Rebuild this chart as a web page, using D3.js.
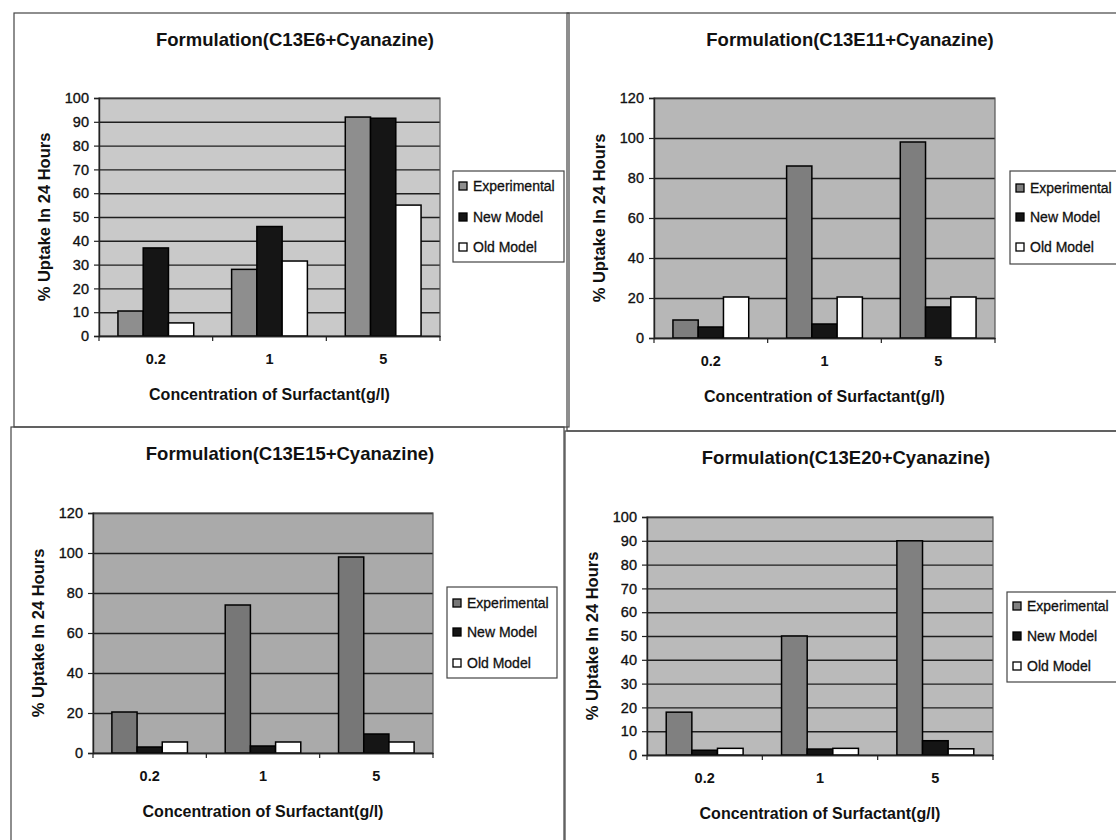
<!DOCTYPE html>
<html>
<head>
<meta charset="utf-8">
<script src="https://cdn.jsdelivr.net/npm/d3@7/dist/d3.min.js"></script>
<style>
  html, body { margin: 0; padding: 0; background: #fff; }
  svg { display: block; font-family: "Liberation Sans", Arial, sans-serif; }
</style>
</head>
<body>
<svg id="chart" width="1116" height="840"></svg>
<script>
// ---------- data ----------
const categories = ["0.2", "1", "5"];
const seriesNames = ["Experimental", "New Model", "Old Model"];
const chartTitles = [
  "Formulation(C13E6+Cyanazine)",
  "Formulation(C13E11+Cyanazine)",
  "Formulation(C13E15+Cyanazine)",
  "Formulation(C13E20+Cyanazine)"
];
const xAxisTitle = "Concentration of Surfactant(g/l)";
const yAxisTitle = "% Uptake In 24 Hours";

const yTicks100 = [0, 10, 20, 30, 40, 50, 60, 70, 80, 90, 100];
const yTicks120 = [0, 20, 40, 60, 80, 100, 120];

const c13e6Experimental = [10.5, 28, 92];
const c13e6NewModel     = [37, 46, 91.5];
const c13e6OldModel     = [5.5, 31.5, 55];

const c13e11Experimental = [9, 86, 98];
const c13e11NewModel     = [5.5, 7, 15.5];
const c13e11OldModel     = [20.5, 20.5, 20.5];

const c13e15Experimental = [20.5, 74, 98];
const c13e15NewModel     = [3, 3.5, 9.5];
const c13e15OldModel     = [5.5, 5.5, 5.5];

const c13e20Experimental = [18, 50, 90];
const c13e20NewModel     = [2, 2.5, 6];
const c13e20OldModel     = [2.8, 2.8, 2.6];

// ---------- layout ----------
const panels = [
  { title: chartTitles[0], series: [c13e6Experimental, c13e6NewModel, c13e6OldModel], ticks: yTicks100,
    box: {x: 14, y: 13, w: 555, h: 414}, plot: {x: 99, y: 98, w: 341, h: 238},
    titleX: 295, titleY: 39, legend: {x: 453, y: 171, w: 111, h: 91, dy: [186, 217, 247]},
    bg: "#c9c9c9", exp: "#8e8e8e" },
  { title: chartTitles[1], series: [c13e11Experimental, c13e11NewModel, c13e11OldModel], ticks: yTicks120,
    box: {x: 567, y: 13, w: 560, h: 418}, plot: {x: 654, y: 98, w: 341, h: 240},
    titleX: 850, titleY: 39, legend: {x: 1010, y: 171, w: 120, h: 93, dy: [188, 217, 247]},
    bg: "#b7b7b7", exp: "#7e7e7e" },
  { title: chartTitles[2], series: [c13e15Experimental, c13e15NewModel, c13e15OldModel], ticks: yTicks120,
    box: {x: 11, y: 427, w: 553, h: 430}, plot: {x: 93, y: 513, w: 340, h: 240},
    titleX: 290, titleY: 453, legend: {x: 447, y: 587, w: 110, h: 91, dy: [603, 632, 663]},
    bg: "#aaaaaa", exp: "#777777" },
  { title: chartTitles[3], series: [c13e20Experimental, c13e20NewModel, c13e20OldModel], ticks: yTicks100,
    box: {x: 565, y: 431, w: 560, h: 430}, plot: {x: 647, y: 517, w: 346, h: 238},
    titleX: 846, titleY: 457, legend: {x: 1007, y: 592, w: 120, h: 90, dy: [606, 636, 666]},
    bg: "#bababa", exp: "#808080" }
];

const svg = d3.select("#chart");
const tickFont = "'Liberation Sans', Arial, sans-serif";

panels.forEach((p, pi) => {
  const g = svg.append("g");
  // panel border
  g.append("rect").attr("x", p.box.x).attr("y", p.box.y).attr("width", p.box.w).attr("height", p.box.h)
    .attr("fill", "none").attr("stroke", "#444").attr("stroke-width", 1.2);

  // title
  g.append("text").attr("x", p.titleX).attr("y", p.titleY).attr("text-anchor", "middle")
    .attr("dominant-baseline", "central").attr("font-size", 18.5).attr("font-weight", "bold")
    .attr("fill", "#111").text(p.title);

  const x0 = d3.scaleBand().domain(categories).range([p.plot.x, p.plot.x + p.plot.w])
    .paddingInner(1 / 3).paddingOuter(1 / 6);
  const x1 = d3.scaleBand().domain(seriesNames).range([0, x0.bandwidth()]).padding(0);
  const yMax = d3.max(p.ticks);
  const y = d3.scaleLinear().domain([0, yMax]).range([p.plot.y + p.plot.h, p.plot.y]);
  const colors = d3.scaleOrdinal().domain(seriesNames).range([p.exp, "#151515", "#ffffff"]);

  // plot background
  g.append("rect").attr("x", p.plot.x).attr("y", p.plot.y).attr("width", p.plot.w).attr("height", p.plot.h)
    .attr("fill", p.bg);

  // gridlines
  const grid = g.append("g").attr("transform", `translate(${p.plot.x},0)`)
    .call(d3.axisLeft(y).tickValues(p.ticks).tickSize(-p.plot.w).tickFormat(""));
  grid.select(".domain").remove();
  grid.selectAll("line").attr("stroke", "#1e1e1e").attr("stroke-width", 1.4);

  // plot border
  g.append("rect").attr("x", p.plot.x).attr("y", p.plot.y).attr("width", p.plot.w).attr("height", p.plot.h)
    .attr("fill", "none").attr("stroke", "#555").attr("stroke-width", 1.2);

  // bars
  const rows = categories.map((c, ci) => ({ cat: c, vals: seriesNames.map((s, si) => ({ s, v: p.series[si][ci] })) }));
  const grp = g.selectAll(".grp").data(rows).join("g").attr("transform", d => `translate(${x0(d.cat)},0)`);
  grp.selectAll("rect").data(d => d.vals).join("rect")
    .attr("x", d => x1(d.s)).attr("y", d => y(d.v))
    .attr("width", x1.bandwidth()).attr("height", d => y(0) - y(d.v))
    .attr("fill", d => colors(d.s)).attr("stroke", "#000").attr("stroke-width", 1.5);

  // y axis
  const ya = g.append("g").attr("transform", `translate(${p.plot.x},0)`)
    .call(d3.axisLeft(y).tickValues(p.ticks).tickSize(5).tickPadding(5));
  ya.select(".domain").attr("stroke", "#222").attr("stroke-width", 1.4);
  ya.selectAll("line").attr("stroke", "#222").attr("stroke-width", 1.2);
  ya.selectAll("text").attr("font-size", 14.5).attr("fill", "#111")
    .attr("stroke", "#111").attr("stroke-width", 0.35).attr("font-family", tickFont);

  // x axis
  const xa = g.append("g").attr("transform", `translate(0,${p.plot.y + p.plot.h})`)
    .call(d3.axisBottom(x0).tickSize(0).tickPadding(18));
  xa.select(".domain").attr("stroke", "#222").attr("stroke-width", 1.4);
  xa.selectAll("text").attr("font-size", 14.5).attr("font-weight", "bold").attr("fill", "#111")
    .attr("font-family", tickFont);
  const bounds = d3.range(categories.length + 1).map(i => p.plot.x + i * x0.step());
  xa.selectAll(".bt").data(bounds).join("line").attr("class", "bt")
    .attr("x1", d => d).attr("x2", d => d).attr("y1", 0).attr("y2", 5)
    .attr("stroke", "#222").attr("stroke-width", 1.2);

  // axis titles
  g.append("text").attr("x", p.plot.x + p.plot.w / 2).attr("y", p.plot.y + p.plot.h + 58)
    .attr("text-anchor", "middle").attr("dominant-baseline", "central")
    .attr("font-size", 16).attr("font-weight", "bold").attr("fill", "#111").text(xAxisTitle);
  const ytx = p.plot.x - 55, yty = p.plot.y + p.plot.h / 2;
  g.append("text").attr("transform", `translate(${ytx},${yty}) rotate(-90)`)
    .attr("text-anchor", "middle").attr("dominant-baseline", "central")
    .attr("font-size", 16.5).attr("font-weight", "bold").attr("fill", "#111").text(yAxisTitle);

  // legend
  const L = p.legend;
  g.append("rect").attr("x", L.x).attr("y", L.y).attr("width", L.w).attr("height", L.h)
    .attr("fill", "#fff").attr("stroke", "#444").attr("stroke-width", 1.2);
  seriesNames.forEach((s, si) => {
    g.append("rect").attr("x", L.x + 6).attr("y", L.dy[si] - 4).attr("width", 8).attr("height", 8)
      .attr("fill", colors(s)).attr("stroke", "#000").attr("stroke-width", 1.3);
    g.append("text").attr("x", L.x + 20).attr("y", L.dy[si]).attr("dominant-baseline", "central")
      .attr("font-size", 14).attr("fill", "#111").attr("stroke", "#111").attr("stroke-width", 0.3)
      .text(s);
  });
});
</script>
</body>
</html>
